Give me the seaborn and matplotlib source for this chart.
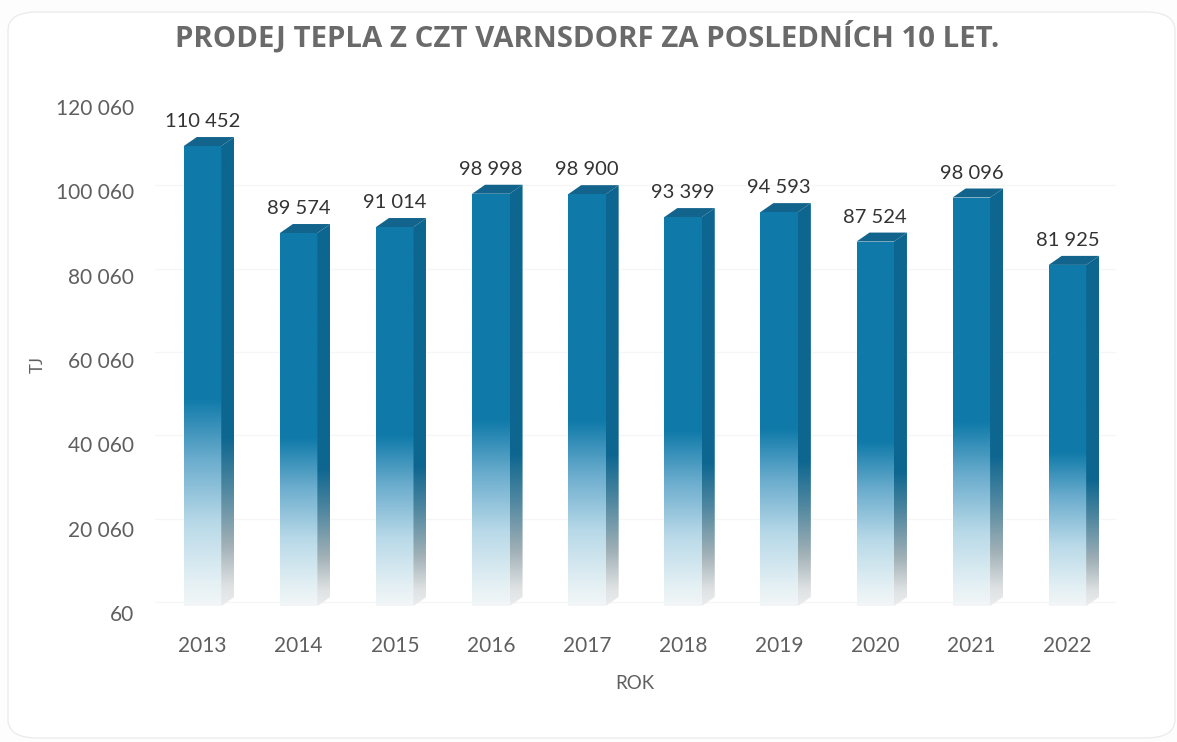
import numpy as np
import pandas as pd
import seaborn as sns
import matplotlib.pyplot as plt
from matplotlib.colors import LinearSegmentedColormap
from matplotlib.patches import FancyBboxPatch, Polygon


years = ['2013', '2014', '2015', '2016', '2017', '2018', '2019', '2020', '2021', '2022']
heat_sold = [110452, 89574, 91014, 98998, 98900, 93399, 94593, 87524, 98096, 81925]
tick_values = [60, 20060, 40060, 60060, 80060, 100060, 120060]

TITLE = 'PRODEJ TEPLA Z CZT VARNSDORF ZA POSLEDNÍCH 10 LET.'
WIDTH, HEIGHT = 1177, 742
DEPTH_X = 0.135
DEPTH_Y = 2160
GRID_SHIFT = 1000
GRAY = '#5f5f5f'


def spaced(value):
    return '{:,}'.format(value).replace(',', ' ')


def fill(ax, clip, extent, cmap):
    grad = np.linspace(1, 0, 256).reshape(-1, 1)
    im = ax.imshow(grad, extent=extent, aspect='auto', cmap=cmap, vmin=0, vmax=1,
                   zorder=3, interpolation='bilinear')
    im.set_clip_path(clip)


def draw_3d_bars(ax):
    base = ax.get_ylim()[0]
    front_cmap = LinearSegmentedColormap.from_list(
        'front', [(0.0, '#f2f6f7'), (0.05, '#e4f0f4'), (0.18, '#b8d9e8'), (0.32, '#6aaccd'),
                  (0.45, '#0f7aa9'), (1.0, '#0f7aa9')])
    side_cmap = LinearSegmentedColormap.from_list(
        'side', [(0.0, '#eaeced'), (0.04, '#dfe2e3'), (0.13, '#a0b0b6'), (0.25, '#4f87a0'),
                 (0.36, '#0d6690'), (1.0, '#0d6690')])

    for bar in list(ax.patches):
        x, w, h = bar.get_x(), bar.get_width(), bar.get_height()
        right = x + w

        side = Polygon([(right, base), (right + DEPTH_X, base + DEPTH_Y),
                        (right + DEPTH_X, h + DEPTH_Y), (right, h)],
                       closed=True, fc='none', ec='none')
        top = Polygon([(x, h), (right, h), (right + DEPTH_X, h + DEPTH_Y), (x + DEPTH_X, h + DEPTH_Y)],
                      closed=True, fc='#12648c', ec='none', zorder=3)
        ax.add_patch(side)
        ax.add_patch(top)

        bar.set_facecolor('none')
        bar.set_edgecolor('none')
        fill(ax, bar, (x, right, base, h), front_cmap)
        fill(ax, side, (right, right + DEPTH_X, base, h + DEPTH_Y), side_cmap)

        ax.annotate(spaced(int(h)), (x + w / 2, h + DEPTH_Y), xytext=(0, 11),
                    textcoords='offset points', ha='center', va='center',
                    fontsize=14.5, color='#333333', zorder=5, annotation_clip=False)


def main():
    sns.set_theme(style='white')
    plt.rcParams['font.family'] = ['Lato', 'DejaVu Sans']

    fig = plt.figure(figsize=(WIDTH / 100, HEIGHT / 100), dpi=100)
    fig.patch.set_facecolor('#fdfdfd')
    fig.patches.append(FancyBboxPatch((8 / WIDTH, 4 / HEIGHT), 1167 / WIDTH, 726 / HEIGHT,
                                      boxstyle='round,pad=0,rounding_size=0.025',
                                      transform=fig.transFigure, fc='white', ec='#ececec', lw=1,
                                      zorder=-1))

    ax = fig.add_axes([154.5 / WIDTH, (HEIGHT - 606) / HEIGHT, 961 / WIDTH, 500 / HEIGHT])
    ax.patch.set_alpha(0)

    df = pd.DataFrame({'year': years, 'heat': heat_sold})
    sns.barplot(data=df, x='year', y='heat', width=0.39, color='#0f7aa9', ax=ax)
    ax.set_xlim(-0.5, 9.5)
    ax.set_ylim(tick_values[0], tick_values[-1])
    draw_3d_bars(ax)
    ax.set_xlim(-0.5, 9.5)
    ax.set_ylim(tick_values[0], tick_values[-1])

    for value in tick_values:
        ax.axhline(value + GRID_SHIFT, color='#f6f6f6', lw=1, zorder=1)

    sns.despine(ax=ax, left=True, bottom=True)
    ax.set_yticks([])
    ax.set_xlabel('ROK', fontsize=13.5, color=GRAY, labelpad=14)
    ax.set_ylabel('')
    ax.tick_params(axis='x', length=0, pad=21.5, labelsize=15, labelcolor=GRAY)

    # value axis labels sit on their own plane, a little off from the bars
    tick_ax = fig.add_axes([154.5 / WIDTH, (HEIGHT - 613) / HEIGHT, 961 / WIDTH, 506 / HEIGHT])
    tick_ax.patch.set_alpha(0)
    tick_ax.set_ylim(tick_values[0], tick_values[-1])
    tick_ax.set_xticks([])
    tick_ax.set_yticks(tick_values)
    tick_ax.set_yticklabels([spaced(v) for v in tick_values])
    tick_ax.tick_params(axis='y', length=0, pad=15, labelsize=15, labelcolor=GRAY)
    sns.despine(ax=tick_ax, left=True, bottom=True)

    fig.text(38 / WIDTH, 1 - 365 / HEIGHT, 'TJ', rotation=90, fontsize=12, color=GRAY,
             ha='center', va='center')
    fig.text(587 / WIDTH, 1 - 37 / HEIGHT, TITLE, fontsize=21.2, fontweight='bold',
             family=['Open Sans', 'DejaVu Sans'], color='#6a6a6a', ha='center', va='center')

    fig.savefig('out.png', dpi=100, facecolor=fig.get_facecolor())


if __name__ == '__main__':
    main()
